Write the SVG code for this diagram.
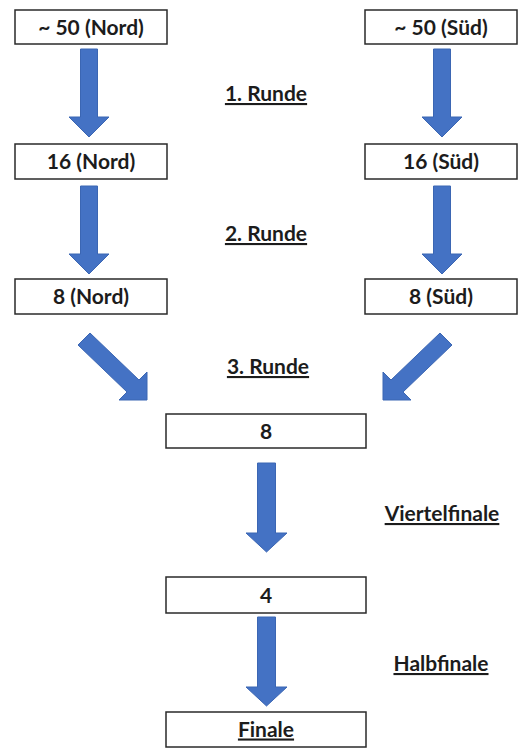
<svg xmlns="http://www.w3.org/2000/svg" width="518" height="748" viewBox="0 0 518 748">
<style>
.box{fill:#ffffff;stroke:#2a2a2a;stroke-width:1.5}
.t{font-family:Lato,"Open Sans","Liberation Sans",sans-serif;font-weight:bold;font-size:21px;fill:#1c1c1c;text-anchor:middle}
.lbl{font-family:Lato,"Open Sans","Liberation Sans",sans-serif;font-weight:bold;font-size:21px;fill:#1c1c1c;text-anchor:middle;text-decoration:underline}
.arr{fill:#4472C4;stroke:#3b66b3;stroke-width:1}
</style>
<rect width="518" height="748" fill="#ffffff"/>
<g id="connectors">
<polygon class="arr" points="80.5,49 97.5,49 97.5,117 109,117 89,137 69,117 80.5,117"/>
<polygon class="arr" points="80.5,186 97.5,186 97.5,254 109,254 89,274 69,254 80.5,254"/>
<polygon class="arr" points="433.5,49 450.5,49 450.5,117 462,117 442,137 422,117 433.5,117"/>
<polygon class="arr" points="433.5,186 450.5,186 450.5,254 462,254 442,274 422,254 433.5,254"/>
<polygon class="arr" points="90,333 139,380 147,372 147,400 119,400 127,392 78,345"/>
<polygon class="arr" points="440,333 391,380 383,372 383,400 411,400 403,392 452,345"/>
<polygon class="arr" points="257.5,463 275.5,463 275.5,533 287,533 266.5,552 246,533 257.5,533"/>
<polygon class="arr" points="257.5,617 275.5,617 275.5,687 287,687 266.5,706 246,687 257.5,687"/>
</g>
<g id="n50nord"><rect class="box" x="15" y="10" width="152" height="34"/><text class="t" x="91" y="34.5">~ 50 (Nord)</text></g>
<g id="n50sued"><rect class="box" x="365" y="10" width="152" height="34"/><text class="t" x="441" y="34.5">~ 50 (Süd)</text></g>
<g id="n16nord"><rect class="box" x="15" y="144" width="152" height="35"/><text class="t" x="91" y="169">16 (Nord)</text></g>
<g id="n16sued"><rect class="box" x="365" y="144" width="152" height="35"/><text class="t" x="441" y="169">16 (Süd)</text></g>
<g id="n8nord"><rect class="box" x="15" y="279" width="152" height="35"/><text class="t" x="91" y="304">8 (Nord)</text></g>
<g id="n8sued"><rect class="box" x="365" y="279" width="152" height="35"/><text class="t" x="441" y="304">8 (Süd)</text></g>
<g id="n8"><rect class="box" x="166" y="414" width="200" height="34"/><text class="t" x="266" y="438.5">8</text></g>
<g id="n4"><rect class="box" x="166" y="577" width="200" height="36"/><text class="t" x="266" y="602.5">4</text></g>
<g id="finale"><rect class="box" x="166" y="712" width="200" height="35"/><text class="t" x="266" y="736.5" style="text-decoration:underline">Finale</text></g>
<g id="labels">
<text class="lbl" x="266" y="101">1. Runde</text>
<text class="lbl" x="266" y="241">2. Runde</text>
<text class="lbl" x="268" y="374">3. Runde</text>
<text class="lbl" x="442" y="521">Viertelfinale</text>
<text class="lbl" x="441" y="671">Halbfinale</text>
</g>
</svg>
